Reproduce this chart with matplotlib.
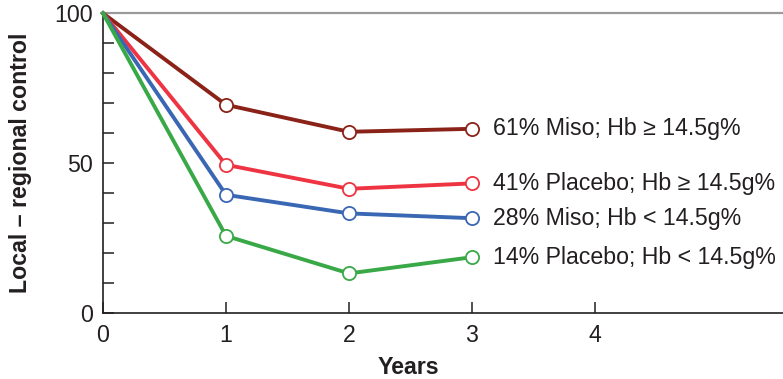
import matplotlib
matplotlib.use("Agg")
import matplotlib.pyplot as plt

plt.rcParams['font.family'] = ['Liberation Sans', 'DejaVu Sans']

years = [0, 1, 2, 3]
miso_high = [100, 69.5, 60.5, 61.5]
placebo_high = [100, 49.5, 41.5, 43.3]
miso_low = [100, 39.5, 33.3, 31.7]
placebo_low = [100, 25.8, 13.3, 18.7]

series = [
    (miso_high, "#8a2218", "61% Miso; Hb \u2265 14.5g%"),
    (placebo_high, "#ee3442", "41% Placebo; Hb \u2265 14.5g%"),
    (miso_low, "#3a67b3", "28% Miso; Hb < 14.5g%"),
    (placebo_low, "#38a946", "14% Placebo; Hb < 14.5g%"),
]

x_ticks = [0, 1, 2, 3, 4]
y_major = [0, 50, 100]
y_minor = [10, 20, 30, 40, 60, 70, 80, 90]

ink = "#231f20"
fs = 16.7
W, H = 783, 379
fig = plt.figure(figsize=(W / 100, H / 100), dpi=100)
ax = fig.add_axes([103 / W, 1 - 313.3 / H, (W - 103) / W, 300 / H])

for vals, color, label in series:
    ax.plot(years, vals, color=color, lw=2.8, marker='o', markevery=[1, 2, 3],
            markersize=9.5, markerfacecolor='white', markeredgecolor=color,
            markeredgewidth=1.3, clip_on=False, zorder=3)
    ax.text(3.17, vals[-1], label, fontsize=fs, color=ink, va='center', ha='left')

ax.set_xlim(0, (W - 103) / 123)
ax.set_ylim(0, 100)

ax.spines['right'].set_visible(False)
ax.spines['top'].set_color('#9a9a9a')
ax.spines['top'].set_linewidth(1.6)
for s in ('left', 'bottom'):
    ax.spines[s].set_color(ink)
    ax.spines[s].set_linewidth(1.2)

ax.set_xticks(x_ticks)
ax.set_yticks(y_major)
ax.set_yticks(y_minor, minor=True)
ax.tick_params(axis='both', which='both', direction='in', length=8, width=1.1,
               color=ink, labelsize=fs, labelcolor=ink)
ax.tick_params(axis='y', which='major', pad=7)
ax.tick_params(axis='x', which='major', pad=8)

ax.set_xlabel("Years", fontsize=fs, fontweight='bold', color=ink)
ax.xaxis.set_label_coords((408.5 - 103) / (W - 103), -0.143)
ax.set_ylabel("Local \u2013 regional control", fontsize=fs, fontweight='bold', color=ink)
ax.yaxis.set_label_coords(-0.104, 0.5)

fig.savefig("out.png", dpi=100)
